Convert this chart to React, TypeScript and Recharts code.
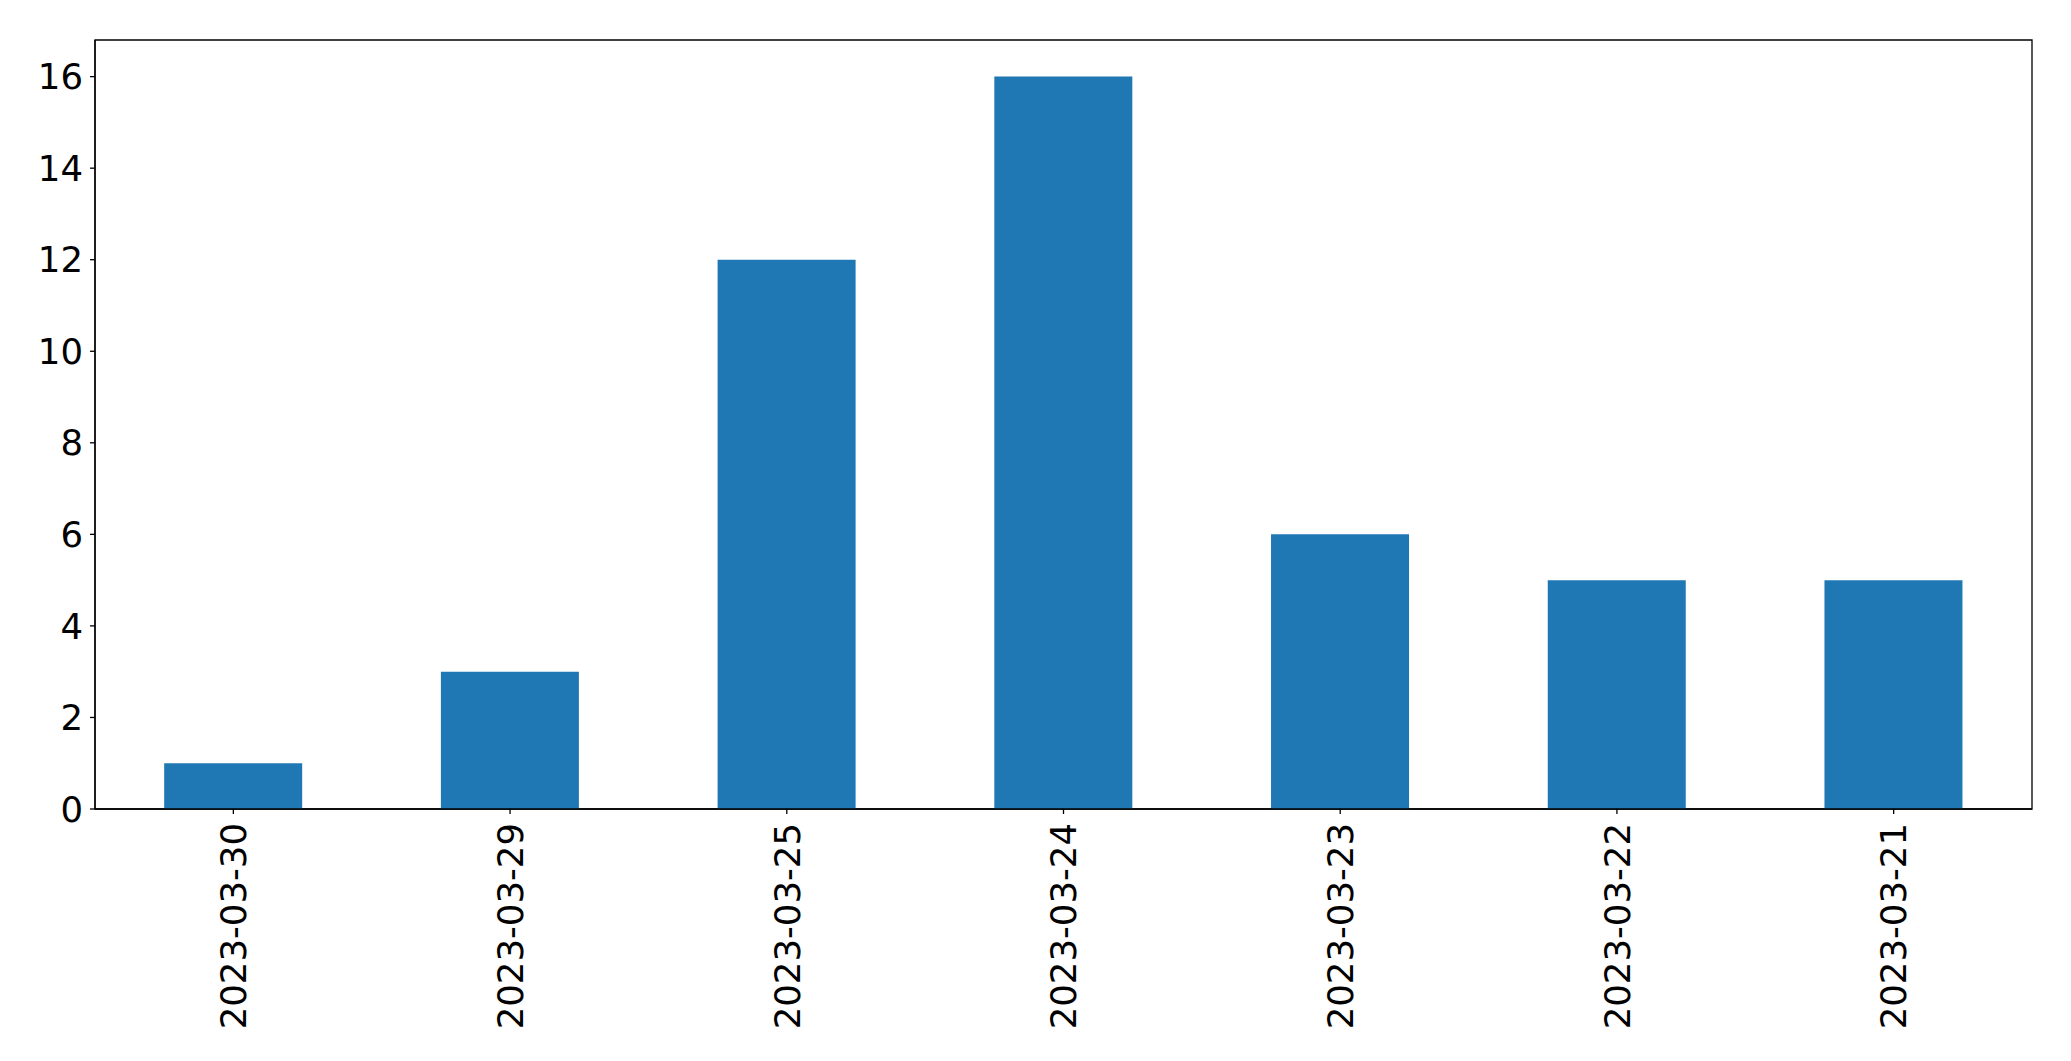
import { BarChart, Bar, XAxis, YAxis, ReferenceArea } from "recharts"

const dates = [
  "2023-03-30",
  "2023-03-29",
  "2023-03-25",
  "2023-03-24",
  "2023-03-23",
  "2023-03-22",
  "2023-03-21",
]
const counts = [1, 3, 12, 16, 6, 5, 5]
const yTicks = [0, 2, 4, 6, 8, 10, 12, 14, 16]
const Y_MAX = 16.8

const data = dates.map((d, i) => ({ date: d, count: counts[i] }))

const FONT = "DejaVu Sans, sans-serif"
const FONT_SIZE = 35.5

function DateTick({ x, y, payload }: { x?: number; y?: number; payload?: { value: string } }) {
  return (
    <g transform={`translate(${x},${y})`}>
      <text
        transform="rotate(-90)"
        textAnchor="end"
        dy="0.36em"
        fill="#000"
        fontSize={FONT_SIZE}
        fontFamily={FONT}
      >
        {payload?.value}
      </text>
    </g>
  )
}

export default function App() {
  return (
    <div style={{ position: "absolute", left: 0, top: 0, background: "#fff" }}>
      <BarChart
        width={2071}
        height={1061}
        data={data}
        margin={{ top: 40, right: 39, left: 0, bottom: 0 }}
        barCategoryGap="25%"
      >
        <XAxis
          dataKey="date"
          height={252}
          interval={0}
          tickSize={5}
          tickMargin={9}
          tick={<DateTick />}
          axisLine={{ stroke: "#000", strokeWidth: 1.3 }}
          tickLine={{ stroke: "#000", strokeWidth: 1.3 }}
        />
        <YAxis
          width={95}
          domain={[0, Y_MAX]}
          ticks={yTicks}
          tickSize={5}
          tickMargin={7}
          allowDataOverflow
          tick={{ fill: "#000", fontSize: FONT_SIZE, fontFamily: FONT }}
          axisLine={{ stroke: "#000", strokeWidth: 1.3 }}
          tickLine={{ stroke: "#000", strokeWidth: 1.3 }}
        />
        <Bar dataKey="count" fill="#1f77b4" isAnimationActive={false} />
        {/* frame around the plot (top and right spines) */}
        <ReferenceArea
          y1={0}
          y2={Y_MAX}
          fill="none"
          fillOpacity={0}
          stroke="#000"
          strokeWidth={1.3}
        />
      </BarChart>
    </div>
  )
}
